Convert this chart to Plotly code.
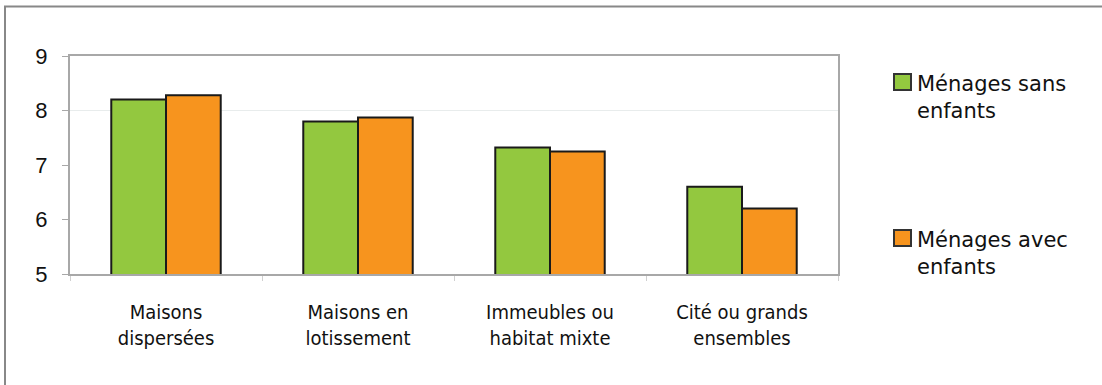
import plotly.graph_objects as go

categories = ["Maisons<br>dispersées", "Maisons en<br>lotissement",
              "Immeubles ou<br>habitat mixte", "Cité ou grands<br>ensembles"]
sans_enfants = [8.2, 7.8, 7.32, 6.6]
avec_enfants = [8.28, 7.87, 7.25, 6.2]
series_names = ["Ménages sans<br>enfants", "Ménages avec<br>enfants"]
y_ticks = [5, 6, 7, 8, 9]

GREEN = "#93C83F"
ORANGE = "#F7941E"
AXIS = "#a8a8a8"
EDGE = "#1a1a1a"

# plot area in pixels: x 70..838, y 56..274
L, R, T, B = 70, 838, 56, 274


def px_x(x):
    return (x - L) / (R - L)


def px_y(y):
    return (B - y) / (B - T)


fig = go.Figure()
for name, vals, col in [(series_names[0], sans_enfants, GREEN),
                        (series_names[1], avec_enfants, ORANGE)]:
    fig.add_trace(go.Bar(x=categories, y=vals, name=name, showlegend=False,
                         marker=dict(color=col, line=dict(color=EDGE, width=2))))

# light horizontal rule at 8
fig.add_hline(y=8, line=dict(color="#e8ecec", width=1), layer="below")

# outer frame (left and top edges visible in the window)
fig.add_shape(type="rect", xref="paper", yref="paper",
              x0=px_x(5), x1=px_x(1115), y0=px_y(400), y1=px_y(6.5),
              line=dict(color="#888888", width=2), layer="below")

# legend: swatches and labels
legend_rows = [(series_names[0], GREEN, 74), (series_names[1], ORANGE, 230)]
for text, col, top in legend_rows:
    fig.add_shape(type="rect", xref="paper", yref="paper",
                  x0=px_x(894), x1=px_x(911), y0=px_y(top + 16), y1=px_y(top),
                  fillcolor=col, line=dict(color="#333333", width=2))
    fig.add_annotation(xref="paper", yref="paper", x=px_x(915), y=px_y(top - 4),
                       xanchor="left", yanchor="top", align="left", showarrow=False,
                       text=text,
                       font=dict(family="DejaVu Sans", size=21, color="#111111"))

fig.update_layout(
    width=1102, height=385,
    margin=dict(l=L, r=1102 - R, t=T, b=385 - B, autoexpand=False),
    paper_bgcolor="white", plot_bgcolor="white",
    barmode="group", bargap=0.43, bargroupgap=0,
    showlegend=False,
    xaxis=dict(showline=True, linecolor=AXIS, linewidth=2, mirror=True,
               ticks="outside", tickson="boundaries", ticklen=5, tickcolor="#d0d0d0",
               tickfont=dict(family="DejaVu Sans Condensed", size=20, color="#111111"),
               ticklabelstandoff=19, showgrid=False),
    yaxis=dict(range=[5, 9], tickvals=y_ticks, showline=True, linecolor=AXIS, linewidth=2,
               mirror=True, ticks="outside", ticklen=6, tickcolor=AXIS, showgrid=False,
               zeroline=False,
               tickfont=dict(family="Liberation Sans, Arial", size=22, color="#111111"),
               ticklabelstandoff=10),
)

fig.write_html("out.html")
